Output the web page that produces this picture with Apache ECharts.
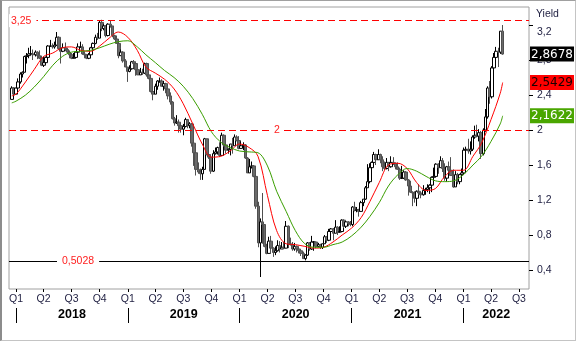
<!DOCTYPE html>
<html><head><meta charset="utf-8">
<script src="https://cdn.jsdelivr.net/npm/echarts@6/dist/echarts.min.js"></script>
<style>
html,body{margin:0;padding:0;background:#fff;}
#c{width:577px;height:343px;position:absolute;left:0;top:0;}
#frame{position:absolute;left:0;top:0;width:573px;height:339px;border:1px solid #c4c4c4;border-left:2px solid #8c8c8c;border-top:1px solid #a0a0a0;pointer-events:none;}
</style></head><body>
<div id="c"></div><div id="frame"></div>
<script>
// ---------- DATA ----------
const axisStart = '2017-12-09';
const axisEnd = '2022-08-03';
const yMin = 0.183, yMax = 3.406;
const yTickValues = [0.4, 0.8, 1.2, 1.6, 2, 2.4, 2.8, 3.2];
const quarterTicks = ['2018-01-01','2018-04-01','2018-07-01','2018-10-01','2019-01-01','2019-04-01','2019-07-01','2019-10-01','2020-01-01','2020-04-01','2020-07-01','2020-10-01','2021-01-01','2021-04-01','2021-07-01','2021-10-01','2022-01-01','2022-04-01','2022-07-01'];
const yearTicks = ['2018-01-01','2019-01-01','2020-01-01','2021-01-01','2022-01-01'];
const yearLabels = ['2018','2019','2020','2021','2022'];
const upperLevel = 3.25, midLevel = 2, lowLevel = 0.5028;

// weekly bars: [week start, open, close, low, high]
const bars2017 = [
['2017-12-18',2.35,2.48,2.35,2.50],['2017-12-25',2.48,2.41,2.40,2.49]];
const bars2018 = [
['2018-01-01',2.41,2.48,2.40,2.48],['2018-01-08',2.48,2.55,2.47,2.59],['2018-01-15',2.55,2.64,2.53,2.66],['2018-01-22',2.64,2.66,2.60,2.67],
['2018-01-29',2.66,2.84,2.66,2.85],['2018-02-05',2.84,2.85,2.76,2.88],['2018-02-12',2.85,2.87,2.82,2.94],['2018-02-19',2.87,2.87,2.86,2.96],
['2018-02-26',2.87,2.86,2.80,2.92],['2018-03-05',2.86,2.89,2.84,2.91],['2018-03-12',2.89,2.85,2.81,2.90],['2018-03-19',2.85,2.82,2.81,2.91],
['2018-03-26',2.82,2.74,2.73,2.85],['2018-04-02',2.74,2.77,2.72,2.84],['2018-04-09',2.77,2.83,2.76,2.84],['2018-04-16',2.83,2.96,2.81,2.97],
['2018-04-23',2.96,2.96,2.95,3.03],['2018-04-30',2.96,2.95,2.93,2.99],['2018-05-07',2.95,2.97,2.93,3.01],['2018-05-14',2.97,3.06,2.96,3.12],
['2018-05-21',3.06,2.93,2.92,3.07],['2018-05-28',2.93,2.90,2.76,2.94],['2018-06-04',2.90,2.94,2.89,2.99],['2018-06-11',2.94,2.92,2.90,3.00],
['2018-06-18',2.92,2.89,2.87,2.94],['2018-06-25',2.89,2.86,2.82,2.91],['2018-07-02',2.86,2.82,2.81,2.88],['2018-07-09',2.82,2.83,2.82,2.88],
['2018-07-16',2.83,2.89,2.82,2.90],['2018-07-23',2.89,2.95,2.88,2.99],['2018-07-30',2.95,2.95,2.94,3.01],['2018-08-06',2.95,2.87,2.86,2.98],
['2018-08-13',2.87,2.86,2.82,2.90],['2018-08-20',2.86,2.82,2.81,2.87],['2018-08-27',2.82,2.86,2.81,2.88],['2018-09-03',2.86,2.94,2.86,2.95],
['2018-09-10',2.94,2.99,2.93,3.00],['2018-09-17',2.99,3.06,2.98,3.09],['2018-09-24',3.06,3.05,3.03,3.11],['2018-10-01',3.05,3.23,3.05,3.25],
['2018-10-08',3.23,3.16,3.13,3.26],['2018-10-15',3.16,3.19,3.14,3.21],['2018-10-22',3.19,3.08,3.06,3.20],['2018-10-29',3.08,3.21,3.07,3.22],
['2018-11-05',3.21,3.19,3.17,3.25],['2018-11-12',3.19,3.08,3.06,3.19],['2018-11-19',3.08,3.04,3.03,3.09],['2018-11-26',3.04,2.99,2.99,3.08],
['2018-12-03',2.99,2.85,2.82,3.00],['2018-12-10',2.85,2.89,2.85,2.92],['2018-12-17',2.89,2.79,2.77,2.90],['2018-12-24',2.79,2.72,2.72,2.81],
['2018-12-31',2.72,2.67,2.55,2.72]];
const bars2019 = [
['2019-01-07',2.67,2.70,2.66,2.74],['2019-01-14',2.70,2.78,2.69,2.79],['2019-01-21',2.78,2.76,2.71,2.80],['2019-01-28',2.76,2.69,2.62,2.78],
['2019-02-04',2.69,2.63,2.63,2.72],['2019-02-11',2.63,2.66,2.63,2.71],['2019-02-18',2.66,2.65,2.63,2.70],['2019-02-25',2.65,2.76,2.64,2.77],
['2019-03-04',2.76,2.63,2.61,2.77],['2019-03-11',2.63,2.59,2.58,2.66],['2019-03-18',2.59,2.44,2.43,2.63],['2019-03-25',2.44,2.41,2.34,2.46],
['2019-04-01',2.41,2.50,2.41,2.53],['2019-04-08',2.50,2.56,2.46,2.57],['2019-04-15',2.56,2.56,2.54,2.60],['2019-04-22',2.56,2.50,2.50,2.58],
['2019-04-29',2.50,2.53,2.45,2.56],['2019-05-06',2.53,2.47,2.42,2.54],['2019-05-13',2.47,2.39,2.35,2.48],['2019-05-20',2.39,2.32,2.29,2.43],
['2019-05-27',2.32,2.13,2.12,2.33],['2019-06-03',2.13,2.08,2.05,2.15],['2019-06-10',2.08,2.09,2.07,2.17],['2019-06-17',2.09,2.05,1.97,2.12],
['2019-06-24',2.05,2.01,1.97,2.06],['2019-07-01',2.01,2.04,1.94,2.07],['2019-07-08',2.04,2.12,2.03,2.14],['2019-07-15',2.12,2.05,2.02,2.12],
['2019-07-22',2.05,2.07,2.02,2.09],['2019-07-29',2.07,1.85,1.81,2.08],['2019-08-05',1.85,1.74,1.59,1.86],['2019-08-12',1.74,1.55,1.48,1.76],
['2019-08-19',1.55,1.52,1.50,1.63],['2019-08-26',1.52,1.50,1.43,1.56],['2019-09-02',1.50,1.55,1.43,1.58],['2019-09-09',1.55,1.90,1.55,1.91],
['2019-09-16',1.90,1.72,1.71,1.90],['2019-09-23',1.72,1.69,1.67,1.79],['2019-09-30',1.69,1.53,1.50,1.71],['2019-10-07',1.53,1.73,1.52,1.77],
['2019-10-14',1.73,1.75,1.72,1.80],['2019-10-21',1.75,1.80,1.72,1.81],['2019-10-28',1.80,1.71,1.69,1.86],['2019-11-04',1.71,1.94,1.71,1.97],
['2019-11-11',1.94,1.83,1.81,1.95],['2019-11-18',1.83,1.77,1.73,1.84],['2019-11-25',1.77,1.78,1.73,1.79],['2019-12-02',1.78,1.84,1.71,1.84],
['2019-12-09',1.84,1.82,1.73,1.91],['2019-12-16',1.82,1.92,1.82,1.95],['2019-12-23',1.92,1.88,1.87,1.94],['2019-12-30',1.88,1.79,1.78,1.93]];
const bars2020 = [
['2020-01-06',1.79,1.82,1.79,1.87],['2020-01-13',1.82,1.83,1.77,1.86],['2020-01-20',1.83,1.68,1.67,1.84],['2020-01-27',1.68,1.51,1.51,1.69],
['2020-02-03',1.51,1.58,1.51,1.67],['2020-02-10',1.58,1.59,1.56,1.64],['2020-02-17',1.59,1.47,1.46,1.60],['2020-02-24',1.47,1.13,1.10,1.47],
['2020-03-02',1.13,0.71,0.66,1.18],['2020-03-09',0.71,0.95,0.32,0.99],['2020-03-16',0.95,0.92,0.70,1.28],['2020-03-23',0.92,0.67,0.66,0.92],
['2020-03-30',0.67,0.59,0.58,0.70],['2020-04-06',0.59,0.73,0.59,0.78],['2020-04-13',0.73,0.65,0.59,0.79],['2020-04-20',0.65,0.60,0.55,0.66],
['2020-04-27',0.60,0.62,0.57,0.67],['2020-05-04',0.62,0.68,0.61,0.74],['2020-05-11',0.68,0.64,0.60,0.73],['2020-05-18',0.64,0.66,0.64,0.72],
['2020-05-25',0.66,0.65,0.64,0.72],['2020-06-01',0.65,0.90,0.65,0.96],['2020-06-08',0.90,0.70,0.65,0.91],['2020-06-15',0.70,0.69,0.68,0.77],
['2020-06-22',0.69,0.64,0.62,0.72],['2020-06-29',0.64,0.67,0.62,0.71],['2020-07-06',0.67,0.64,0.60,0.68],['2020-07-13',0.64,0.62,0.59,0.66],
['2020-07-20',0.62,0.59,0.56,0.64],['2020-07-27',0.59,0.53,0.53,0.61],['2020-08-03',0.53,0.57,0.51,0.58],['2020-08-10',0.57,0.71,0.56,0.72],
['2020-08-17',0.71,0.64,0.62,0.72],['2020-08-24',0.64,0.72,0.63,0.79],['2020-08-31',0.72,0.72,0.62,0.73],['2020-09-07',0.72,0.67,0.65,0.72],
['2020-09-14',0.67,0.69,0.66,0.71],['2020-09-21',0.69,0.66,0.64,0.70],['2020-09-28',0.66,0.70,0.64,0.70],['2020-10-05',0.70,0.78,0.70,0.80],
['2020-10-12',0.78,0.74,0.71,0.79],['2020-10-19',0.74,0.84,0.73,0.87],['2020-10-26',0.84,0.87,0.76,0.88],['2020-11-02',0.87,0.82,0.74,0.88],
['2020-11-09',0.82,0.89,0.82,0.97],['2020-11-16',0.89,0.83,0.80,0.90],['2020-11-23',0.83,0.84,0.83,0.90],['2020-11-30',0.84,0.97,0.83,0.98],
['2020-12-07',0.97,0.90,0.88,0.98],['2020-12-14',0.90,0.95,0.88,0.96],['2020-12-21',0.95,0.93,0.90,0.96],['2020-12-28',0.93,0.92,0.90,0.96]];
const bars2021 = [
['2021-01-04',0.92,1.12,0.90,1.13],['2021-01-11',1.12,1.08,1.07,1.18],['2021-01-18',1.08,1.09,1.06,1.12],['2021-01-25',1.09,1.07,1.01,1.10],
['2021-02-01',1.07,1.17,1.07,1.19],['2021-02-08',1.17,1.21,1.13,1.21],['2021-02-15',1.21,1.34,1.20,1.36],['2021-02-22',1.34,1.41,1.34,1.61],
['2021-03-01',1.41,1.57,1.39,1.62],['2021-03-08',1.57,1.63,1.51,1.64],['2021-03-15',1.63,1.72,1.58,1.75],['2021-03-22',1.72,1.66,1.60,1.73],
['2021-03-29',1.66,1.72,1.66,1.78],['2021-04-05',1.72,1.66,1.62,1.73],['2021-04-12',1.66,1.58,1.53,1.70],['2021-04-19',1.58,1.56,1.54,1.64],
['2021-04-26',1.56,1.63,1.55,1.68],['2021-05-03',1.63,1.58,1.53,1.63],['2021-05-10',1.58,1.63,1.57,1.70],['2021-05-17',1.63,1.62,1.60,1.69],
['2021-05-24',1.62,1.58,1.55,1.63],['2021-05-31',1.58,1.55,1.55,1.63],['2021-06-07',1.55,1.45,1.43,1.57],['2021-06-14',1.45,1.45,1.44,1.59],
['2021-06-21',1.45,1.52,1.44,1.54],['2021-06-28',1.52,1.43,1.42,1.53],['2021-07-05',1.43,1.36,1.25,1.44],['2021-07-12',1.36,1.29,1.28,1.42],
['2021-07-19',1.29,1.28,1.13,1.30],['2021-07-26',1.28,1.22,1.17,1.30],['2021-08-02',1.22,1.30,1.13,1.31],['2021-08-09',1.30,1.28,1.26,1.38],
['2021-08-16',1.28,1.26,1.22,1.29],['2021-08-23',1.26,1.31,1.25,1.37],['2021-08-30',1.31,1.32,1.26,1.34],['2021-09-06',1.32,1.34,1.29,1.38],
['2021-09-13',1.34,1.37,1.27,1.38],['2021-09-20',1.37,1.46,1.29,1.47],['2021-09-27',1.46,1.47,1.45,1.57],['2021-10-04',1.47,1.61,1.46,1.62],
['2021-10-11',1.61,1.57,1.50,1.62],['2021-10-18',1.57,1.65,1.57,1.70],['2021-10-25',1.65,1.56,1.52,1.68],['2021-11-01',1.56,1.45,1.42,1.62],
['2021-11-08',1.45,1.58,1.41,1.59],['2021-11-15',1.58,1.54,1.52,1.64],['2021-11-22',1.54,1.48,1.48,1.69],['2021-11-29',1.48,1.35,1.34,1.55],
['2021-12-06',1.35,1.49,1.35,1.53],['2021-12-13',1.49,1.41,1.38,1.51],['2021-12-20',1.41,1.49,1.38,1.50],['2021-12-27',1.49,1.51,1.45,1.56]];
const bars2022 = [
['2022-01-03',1.51,1.77,1.50,1.80],['2022-01-10',1.77,1.78,1.70,1.81],['2022-01-17',1.78,1.76,1.73,1.90],['2022-01-24',1.76,1.78,1.72,1.87],
['2022-01-31',1.78,1.92,1.76,1.94],['2022-02-07',1.92,1.94,1.90,2.05],['2022-02-14',1.94,1.93,1.92,2.06],['2022-02-21',1.93,1.97,1.87,2.01],
['2022-02-28',1.97,1.73,1.67,1.99],['2022-03-07',1.73,2.00,1.71,2.02],['2022-03-14',2.00,2.15,1.98,2.24],['2022-03-21',2.15,2.48,2.13,2.50],
['2022-03-28',2.48,2.38,2.30,2.56],['2022-04-04',2.38,2.71,2.36,2.73],['2022-04-11',2.71,2.83,2.67,2.88],['2022-04-18',2.83,2.90,2.81,2.95],
['2022-04-25',2.90,2.89,2.72,2.94],['2022-05-02',2.89,3.13,2.87,3.13],['2022-05-09',3.13,2.8678,2.86,3.20]];

// moving averages
const maDates = ['2017-12-18',
'2018-01-01','2018-02-01','2018-03-01','2018-04-01','2018-05-01','2018-06-01','2018-07-01','2018-08-01','2018-09-01','2018-10-01','2018-11-01','2018-12-01',
'2019-01-01','2019-02-01','2019-03-01','2019-04-01','2019-05-01','2019-06-01','2019-07-01','2019-08-01','2019-09-01','2019-10-01','2019-11-01','2019-12-01',
'2020-01-01','2020-02-01','2020-03-01','2020-04-01','2020-05-01','2020-06-01','2020-07-01','2020-08-01','2020-09-01','2020-10-01','2020-11-01','2020-12-01',
'2021-01-01','2021-02-01','2021-03-01','2021-04-01','2021-05-01','2021-06-01','2021-07-01','2021-08-01','2021-09-01','2021-10-01','2021-11-01','2021-12-01',
'2022-01-01','2022-02-01','2022-03-01','2022-04-01','2022-05-01','2022-05-09'];
const ma50 = [2.39,
2.41,2.55,2.69,2.84,2.88,2.94,2.95,2.91,2.90,2.96,3.05,3.12,
3.06,2.91,2.72,2.65,2.58,2.47,2.30,2.07,1.84,1.69,1.70,1.76,
1.84,1.80,1.70,1.25,0.85,0.70,0.69,0.67,0.65,0.66,0.72,0.80,
0.88,1.00,1.18,1.40,1.60,1.62,1.56,1.40,1.31,1.33,1.47,1.54,
1.54,1.70,1.85,2.12,2.42,2.5429];
const ma100 = [2.31,
2.33,2.40,2.49,2.61,2.74,2.84,2.89,2.90,2.91,2.94,2.98,3.01,
3.02,2.95,2.86,2.77,2.68,2.60,2.50,2.36,2.18,1.98,1.86,1.80,
1.76,1.75,1.74,1.59,1.30,1.07,0.85,0.70,0.66,0.66,0.69,0.72,
0.79,0.89,1.01,1.17,1.36,1.49,1.56,1.53,1.47,1.42,1.41,1.42,
1.49,1.60,1.70,1.87,2.07,2.1622];

// ---------- BUILD ----------
const FONT = 'Liberation Sans';
const BOXFONT = 'DejaVu Sans';
const LBL = '#1e1e40';
const ts = s => Date.parse(s + 'T00:00:00Z');
const comma = v => String(v).replace('.', ',');
const allBars = [].concat(bars2017, bars2018, bars2019, bars2020, bars2021, bars2022);
const candleData = allBars.map(r => [ts(r[0]), r[1], r[2], r[3], r[4]]);
const ma50Data = maDates.map((d, i) => [ts(d), ma50[i]]);
const ma100Data = maDates.map((d, i) => [ts(d), ma100[i]]);
const lastClose = allBars[allBars.length - 1][2];
const lastMa50 = ma50[ma50.length - 1];
const lastMa100 = ma100[ma100.length - 1];
const xMin = ts(axisStart), xMax = ts(axisEnd);
const yearStartTs = yearTicks.map(ts);
const yearMid = yearStartTs.map((t, i) => (t + Math.min(i + 1 < yearStartTs.length ? yearStartTs[i + 1] : xMax, xMax)) / 2);

const chart = echarts.init(document.getElementById('c'), null, {renderer: 'canvas'});
chart.setOption({
  animation: false,
  backgroundColor: '#fff',
  grid: {left: 9, right: 48, top: 7, bottom: 54, show: true, borderColor: '#a0a0a0', borderWidth: 1, backgroundColor: 'transparent'},
  xAxis: [
    {type: 'value', min: xMin, max: xMax, position: 'bottom', scale: true,
     axisLine: {show: false}, splitLine: {show: false},
     axisTick: {show: true, customValues: quarterTicks.map(ts), length: 3, lineStyle: {color: '#000'}},
     axisLabel: {customValues: quarterTicks.map(ts), margin: 5, fontSize: 10.5, fontFamily: FONT, color: LBL,
       formatter: v => 'Q' + (Math.floor(new Date(v).getUTCMonth() / 3) + 1)}},
    {type: 'value', min: xMin, max: xMax, position: 'bottom', offset: 19, scale: true,
     axisLine: {show: false}, splitLine: {show: false},
     axisTick: {show: true, customValues: yearStartTs, length: 15, lineStyle: {color: '#000', width: 1}},
     axisLabel: {customValues: yearMid, margin: 0, fontSize: 12.5, fontWeight: 'bold', fontFamily: FONT, color: '#000',
       formatter: v => { const i = yearMid.findIndex(m => Math.abs(m - v) < 1000); return i >= 0 ? yearLabels[i] : ''; }}}
  ],
  yAxis: [
    {type: 'value', position: 'right', min: yMin, max: yMax,
     name: 'Yield', nameLocation: 'end', nameGap: -2,
     nameTextStyle: {align: 'left', verticalAlign: 'top', fontSize: 10.5, fontFamily: FONT, color: LBL, padding: [0, 0, 0, 7]},
     axisLine: {show: false}, splitLine: {show: false},
     axisTick: {show: true, customValues: yTickValues, length: 4, lineStyle: {color: '#000'}},
     axisLabel: {customValues: yTickValues, margin: 8, fontSize: 10.5, fontFamily: FONT, color: LBL,
       formatter: v => v === 3.2 ? '{dn|' + comma(v) + '}' : comma(v),
       rich: {dn: {padding: [14, 0, 0, 0], fontSize: 10.5, fontFamily: FONT, color: LBL}}}},
    {type: 'value', position: 'right', min: yMin, max: yMax, z: 10,
     axisLine: {show: false}, axisTick: {show: false}, splitLine: {show: false},
     axisLabel: {customValues: [lastClose, lastMa50, lastMa100], margin: 1, fontSize: 12, fontFamily: BOXFONT,
       formatter: v => {
         const txt = v.toFixed(4).replace('.', ',');
         if (Math.abs(v - lastClose) < 1e-6) return '{k|' + txt + '}';
         if (Math.abs(v - lastMa50) < 1e-6) return '{r|' + txt + '}';
         return '{g|' + txt + '}';
       },
       rich: {
         k: {color: '#fff', backgroundColor: '#000', fontSize: 12, fontFamily: BOXFONT, padding: [2, 1, 1, 1], lineHeight: 12},
         r: {color: '#1a0000', backgroundColor: '#ff0000', fontSize: 12, fontFamily: BOXFONT, padding: [2, 1, 1, 1], lineHeight: 12},
         g: {color: '#fff', backgroundColor: '#4aa600', fontSize: 12, fontFamily: BOXFONT, padding: [2, 1, 1, 1], lineHeight: 12}
       }}}
  ],
  series: [
    {type: 'candlestick', xAxisIndex: 0, yAxisIndex: 0, data: candleData, barWidth: 3,
     itemStyle: {color: '#ffffff', color0: '#6a6a6a', borderColor: '#000', borderColor0: '#505050', borderWidth: 1},
     markLine: {symbol: 'none', silent: true, animation: false,
       data: [
         {yAxis: upperLevel, lineStyle: {color: '#ff0000', type: [7, 4], width: 1},
          label: {show: true, position: 'insideStart', distance: [0, 0], formatter: comma(upperLevel), color: '#ff2020', fontSize: 10.5, fontFamily: FONT, backgroundColor: '#fff', padding: [1, 5, 1, 2]}},
         {yAxis: midLevel, lineStyle: {color: '#ff0000', type: [7, 4], width: 1},
          label: {show: true, position: 'insideStart', distance: [262, 0], formatter: comma(midLevel), color: '#ff2020', fontSize: 10.5, fontFamily: FONT, backgroundColor: '#fff', padding: [1, 3, 1, 3]}},
         {yAxis: lowLevel, lineStyle: {color: '#000', type: 'solid', width: 1},
          label: {show: true, position: 'insideStart', distance: [48, 0], formatter: comma(lowLevel), color: '#ff2020', fontSize: 10.5, fontFamily: FONT, backgroundColor: '#fff', padding: [1, 5, 1, 5]}}
       ]}},
    {type: 'line', xAxisIndex: 0, yAxisIndex: 0, data: ma50Data, smooth: 0.35, showSymbol: false, symbol: 'none',
     lineStyle: {color: '#ff0000', width: 1}, z: 3},
    {type: 'line', xAxisIndex: 0, yAxisIndex: 0, data: ma100Data, smooth: 0.35, showSymbol: false, symbol: 'none',
     lineStyle: {color: '#3a9e00', width: 1}, z: 3}
  ]
});
</script></body></html>
